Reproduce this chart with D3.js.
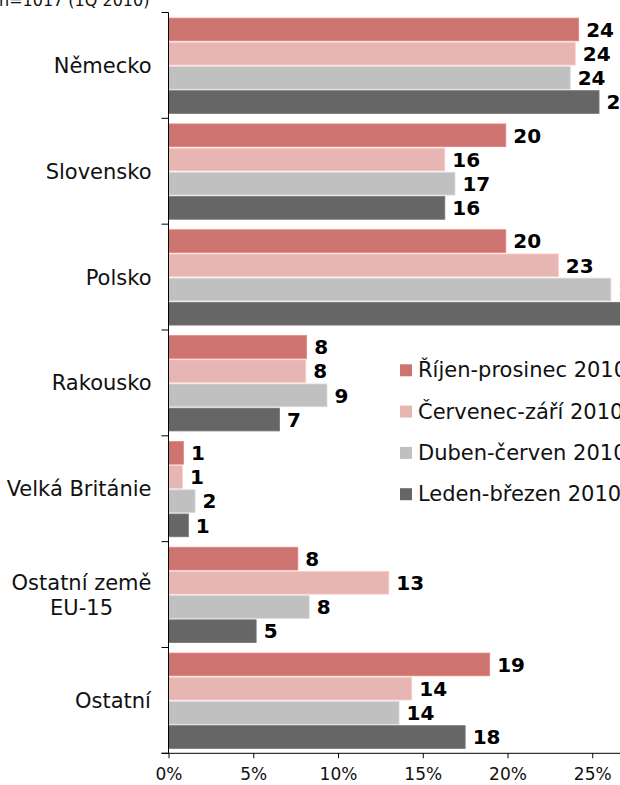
<!DOCTYPE html>
<html>
<head>
<meta charset="utf-8">
<script src="https://cdn.jsdelivr.net/npm/d3@7"></script>
<style>
  html, body { margin: 0; padding: 0; background: #fff; overflow: hidden; }
  svg { display: block; font-family: "DejaVu Sans", Verdana, sans-serif; }
  .cat-label { font-size: 21px; fill: #111; }
  .val-label { font-size: 20px; font-weight: bold; fill: #000; }
  .legend-label { font-size: 21px; fill: #111; }
  .x-axis text { font-size: 17px; fill: #111; font-family: "DejaVu Sans", Verdana, sans-serif; }
  .note { font-size: 16px; fill: #111; }
</style>
</head>
<body>
<div id="chart"></div>
<script>
// Shares of respondents by country, four quarters of 2010 (values in %)
const categories = ['Německo', 'Slovensko', 'Polsko', 'Rakousko', 'Velká Británie', 'Ostatní země EU-15', 'Ostatní'];
const seriesNames = ['Říjen-prosinec 2010', 'Červenec-září 2010', 'Duben-červen 2010', 'Leden-březen 2010'];
const rijenProsinec = [24.2, 19.9, 19.9, 8.15, 0.88, 7.63, 18.95];
const cervenecZari = [24.0, 16.3, 23.0, 8.1, 0.82, 13.0, 14.35];
const dubenCerven = [23.7, 16.9, 26.1, 9.35, 1.57, 8.3, 13.6];
const ledenBrezen = [25.4, 16.3, 27.6, 6.55, 1.17, 5.17, 17.5];
const xTicks = [0, 5, 10, 15, 20, 25, 30];
const noteText = 'n=1017 (1Q 2010)';

const seriesValues = [rijenProsinec, cervenecZari, dubenCerven, ledenBrezen];
const colors = ['#CD7370', '#E6B6B2', '#C0C0C0', '#666666'];

const width = 620, height = 785;
const plotLeft = 168.5, plotTop = 12.5, plotBottom = 753.3;

const svg = d3.select('#chart').append('svg')
  .attr('width', width)
  .attr('height', height);

const x = d3.scaleLinear().domain([0, 30]).range([plotLeft, plotLeft + 30 * 16.95]);

const y0 = d3.scaleBand().domain(categories).range([plotTop, plotBottom]);
const y1 = d3.scaleBand().domain(seriesNames)
  .range([5.6, y0.bandwidth() - 4.9])
  .paddingInner(0.06);

// rows: one entry per bar
const rows = [];
categories.forEach((cat, ci) => {
  seriesNames.forEach((s, si) => {
    rows.push({ cat, series: s, si, value: seriesValues[si][ci] });
  });
});

const bars = svg.append('g').selectAll('g')
  .data(rows)
  .join('g')
  .attr('transform', d => `translate(0,${y0(d.cat) + y1(d.series)})`);

bars.append('rect')
  .attr('x', x(0))
  .attr('y', 0)
  .attr('width', d => x(d.value) - x(0))
  .attr('height', y1.bandwidth())
  .attr('fill', d => colors[d.si])
  .attr('stroke', d => d3.color(colors[d.si]).brighter(0.35).formatRgb())
  .attr('stroke-width', 0.8);

bars.append('text')
  .attr('class', 'val-label')
  .attr('x', d => x(d.value) + 7.5)
  .attr('y', y1.bandwidth() / 2 + 7.2)
  .text(d => Math.round(d.value));

// x axis
const xAxis = d3.axisBottom(x)
  .tickValues(xTicks)
  .tickFormat(d => d + '%')
  .tickSize(5)
  .tickPadding(10)
  .tickSizeOuter(0);

const gx = svg.append('g')
  .attr('class', 'x-axis')
  .attr('transform', `translate(0,${plotBottom})`)
  .call(xAxis);
gx.select('.domain').remove();
gx.selectAll('line').attr('stroke', '#000');
gx.append('line')
  .attr('x1', plotLeft - 7).attr('x2', width + 10)
  .attr('stroke', '#000');

// y axis: line plus ticks at band boundaries
const gy = svg.append('g');
gy.append('line')
  .attr('x1', plotLeft).attr('x2', plotLeft)
  .attr('y1', plotTop).attr('y2', plotBottom)
  .attr('stroke', '#000');
const bounds = categories.map(c => y0(c)).concat([plotBottom]);
gy.selectAll('.ytick')
  .data(bounds)
  .join('line')
  .attr('class', 'ytick')
  .attr('x1', plotLeft - 7).attr('x2', plotLeft)
  .attr('y1', d => d).attr('y2', d => d)
  .attr('stroke', '#000');

// category labels (wrap "Ostatní země EU-15", lines centred to each other)
const labelLines = c => c === 'Ostatní země EU-15' ? ['Ostatní země', 'EU-15'] : [c];
categories.forEach(c => {
  const lines = labelLines(c);
  const cy = y0(c) + y0.bandwidth() / 2 + 7.5;
  const t = svg.append('text')
    .attr('class', 'cat-label')
    .attr('text-anchor', 'middle');
  lines.forEach((ln, i) => {
    t.append('tspan')
      .attr('x', 0)
      .attr('y', cy + (i - (lines.length - 1) / 2) * 25)
      .text(ln);
  });
  const bb = t.node().getBBox();
  t.attr('transform', `translate(${plotLeft - 17 - bb.width / 2},0)`);
});

// legend
const legend = svg.append('g').selectAll('g')
  .data(seriesNames)
  .join('g')
  .attr('transform', (d, i) => `translate(400,${364.3 + i * 41.3})`);
legend.append('rect')
  .attr('width', 12).attr('height', 12)
  .attr('fill', (d, i) => colors[i]);
legend.append('text')
  .attr('class', 'legend-label')
  .attr('x', 18)
  .attr('y', 13)
  .text(d => d);

// sample note, clipped at the top edge
svg.append('text')
  .attr('class', 'note')
  .attr('x', -1)
  .attr('y', 5.5)
  .text(noteText);
</script>
</body>
</html>
